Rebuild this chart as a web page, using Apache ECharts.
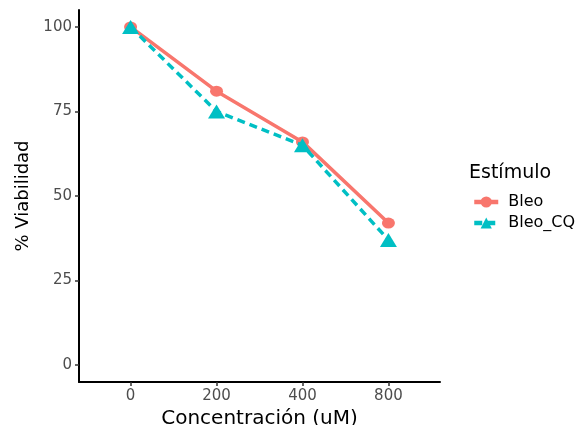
<!DOCTYPE html>
<html>
<head>
<meta charset="utf-8">
<script src="https://cdn.jsdelivr.net/npm/echarts@6/dist/echarts.min.js"></script>
<style>
  html, body { margin: 0; padding: 0; background: #fff; }
  #chart { width: 582px; height: 425px; }
</style>
</head>
<body>
<div id="chart"></div>
<script>
const concentrations = ['0', '200', '400', '800'];
const bleo = [100, 81, 66, 42];
const bleoCQ = [100, 75, 65, 37];
const yTicks = [0, 25, 50, 75, 100];

const red = '#F8766D';
const cyan = '#00BFC4';
const font = 'DejaVu Sans, sans-serif';

const toPoints = (vals) => vals.map((v, i) => [i, v]);

const chart = echarts.init(document.getElementById('chart'), null, { renderer: 'canvas' });

const option = {
  backgroundColor: '#FFFFFF',
  animation: false,
  title: {
    text: 'Estímulo',
    left: 464,
    top: 159,
    textStyle: { fontFamily: font, fontSize: 19, fontWeight: 'normal', color: '#000' }
  },
  legend: {
    orient: 'vertical',
    left: 467,
    top: 189,
    itemWidth: 24,
    itemHeight: 14,
    itemGap: 5,
    lineStyle: { width: 4.5 },
    textStyle: { fontFamily: font, fontSize: 16, color: '#000', padding: [0, 0, 0, 5] },
    data: ['Bleo', 'Bleo_CQ']
  },
  grid: { left: 79, right: 142, top: 10, bottom: 43, containLabel: false, outerBoundsMode: 'none' },
  xAxis: {
    type: 'value',
    min: -0.6,
    max: 3.6,
    name: 'Concentración (uM)',
    nameLocation: 'middle',
    nameGap: 21,
    nameTextStyle: { fontFamily: font, fontSize: 20, color: '#000' },
    axisLine: { show: true, onZero: false, lineStyle: { color: '#000', width: 2 } },
    axisTick: { show: true, customValues: [0, 1, 2, 3], length: 4, lineStyle: { color: '#333', width: 1.5 } },
    axisLabel: {
      customValues: [0, 1, 2, 3],
      formatter: (v) => concentrations[Math.round(v)],
      fontFamily: font, fontSize: 15, color: '#4D4D4D', margin: 7
    },
    splitLine: { show: false }
  },
  yAxis: {
    type: 'value',
    min: -5,
    max: 105,
    name: '% Viabilidad',
    nameLocation: 'middle',
    nameGap: 46,
    nameTextStyle: { fontFamily: font, fontSize: 18, color: '#000' },
    axisLine: { show: true, onZero: false, lineStyle: { color: '#000', width: 2 } },
    axisTick: { show: true, customValues: yTicks, length: 4, lineStyle: { color: '#333', width: 1.5 } },
    axisLabel: {
      customValues: yTicks,
      fontFamily: font, fontSize: 15, color: '#4D4D4D', margin: 7
    },
    splitLine: { show: false }
  },
  series: [
    {
      name: 'Bleo',
      type: 'line',
      data: toPoints(bleo),
      symbol: 'circle',
      symbolSize: [13, 11],
      itemStyle: { color: red },
      lineStyle: { color: red, width: 3.5 },
      z: 2
    },
    {
      name: 'Bleo_CQ',
      type: 'line',
      data: toPoints(bleoCQ),
      symbol: 'triangle',
      symbolSize: [17, 14],
      itemStyle: { color: cyan },
      lineStyle: { color: cyan, width: 3.5, type: [8, 5] },
      z: 3
    }
  ]
};

chart.setOption(option);
</script>
</body>
</html>
